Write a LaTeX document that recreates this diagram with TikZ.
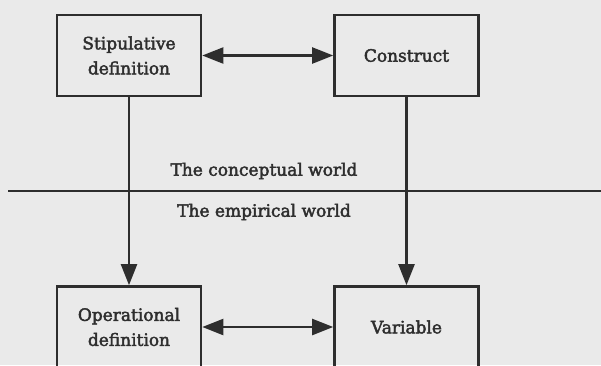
\documentclass[tikz,border=0pt]{standalone}
\usepackage{fontspec}
\setmainfont{DejaVu Serif}[UprightFeatures={FakeBold=2.5}]
\usetikzlibrary{arrows.meta}
\definecolor{bg}{HTML}{EAEAEA}
\definecolor{ink}{HTML}{2E2E2E}
\begin{document}
\begin{tikzpicture}[x=1pt,y=-1pt,
  box/.style={draw=ink,line width=2.6pt,minimum width=144pt,minimum height=81pt,inner sep=0pt,align=center,font=\fontsize{17}{25}\selectfont,text=ink},
  lbl/.style={font=\fontsize{17}{20}\selectfont,text=ink,inner sep=0pt},
  arr/.style={draw=ink,line width=2.2pt,-{Triangle[length=21pt,width=16pt]}},
  darr/.style={draw=ink,line width=2.2pt,{Triangle[length=21pt,width=16pt]}-{Triangle[length=21pt,width=16pt]}}]
\fill[bg] (0,0) rectangle (601,365);
\clip (0,0) rectangle (601,365);
\node[box] (sd) at (129,55.5) {Stipulative\\definition};
\node[box] (cn) at (406.5,55.5) {Construct};
\node[box] (od) at (129,327) {Operational\\definition};
\node[box] (vr) at (406.5,327) {Variable};
\coordinate (l1) at (8,191);
\coordinate (l2) at (601,191);
\draw[ink,line width=2.2pt] (l1) -- (l2);
\node[lbl] (cw) at (264,171) {The conceptual world};
\node[lbl] (ew) at (264,212) {The empirical world};
\draw[arr] (sd) -- (od);
\draw[arr] (cn) -- (vr);
\draw[darr] (sd) -- (cn);
\draw[darr] (od) -- (vr);
\end{tikzpicture}
\end{document}
